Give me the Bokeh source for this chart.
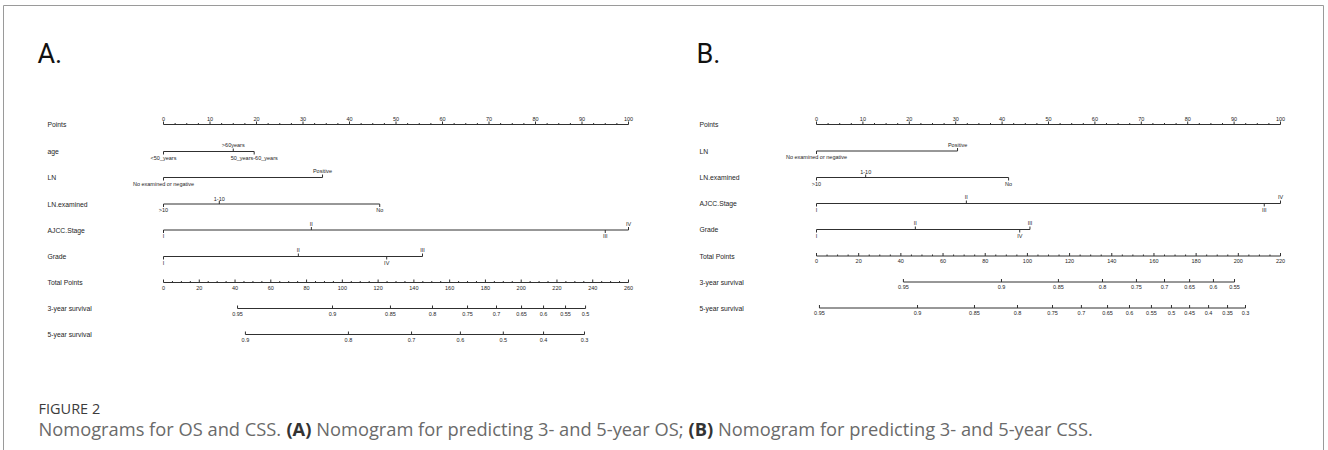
import glob
import os

from bokeh.plotting import figure
from bokeh.models import Range1d
from bokeh.core.properties import value
from bokeh.embed import file_html
from bokeh.resources import INLINE

W, H = 1328, 450

# ---------------- data: panel A (OS) ----------------
A_row_names = ["Points", "age", "LN", "LN.examined", "AJCC.Stage", "Grade",
               "Total Points", "3-year survival", "5-year survival"]
A_age_labels = ["<50_years", ">60years", "50_years-60_years"]
A_age_pts = [0, 15, 19.5]
A_ln_labels = ["No examined or negative", "Positive"]
A_ln_pts = [0, 34.2]
A_lnex_labels = [">10", "1-10", "No"]
A_lnex_pts = [0, 12, 46.5]
A_stage_labels = ["I", "II", "III", "IV"]
A_stage_pts = [0, 31.8, 95, 100]
A_grade_labels = ["I", "II", "IV", "III"]
A_grade_pts = [0, 29, 48, 55.7]
A_total_max = 260
A_surv3_labels = ["0.95", "0.9", "0.85", "0.8", "0.75", "0.7", "0.65", "0.6", "0.55", "0.5"]
A_surv3_total = [41.4, 94.5, 126.9, 150.4, 170, 186.2, 200.2, 212.5, 224.8, 236]
A_surv5_labels = ["0.9", "0.8", "0.7", "0.6", "0.5", "0.4", "0.3"]
A_surv5_total = [45.8, 103.4, 138.7, 166, 190, 212.5, 235.4]

# ---------------- data: panel B (CSS) ----------------
B_row_names = ["Points", "LN", "LN.examined", "AJCC.Stage", "Grade",
               "Total Points", "3-year survival", "5-year survival"]
B_ln_labels = ["No examined or negative", "Positive"]
B_ln_pts = [0, 30.4]
B_lnex_labels = [">10", "1-10", "No"]
B_lnex_pts = [0, 10.6, 41.4]
B_stage_labels = ["I", "II", "III", "IV"]
B_stage_pts = [0, 32.3, 96.5, 100]
B_grade_labels = ["I", "II", "IV", "III"]
B_grade_pts = [0, 21.3, 43.8, 46]
B_total_max = 220
B_surv3_labels = ["0.95", "0.9", "0.85", "0.8", "0.75", "0.7", "0.65", "0.6", "0.55"]
B_surv3_total = [41.2, 87.7, 114.7, 135.6, 151.7, 165, 176.9, 188.2, 198.2]
B_surv5_labels = ["0.95", "0.9", "0.85", "0.8", "0.75", "0.7", "0.65", "0.6", "0.55",
                  "0.5", "0.45", "0.4", "0.35", "0.3"]
B_surv5_total = [1.4, 47.9, 74.9, 95.3, 111.9, 125.6, 138, 148.4, 158.8,
                 168.3, 176.9, 185.9, 194.9, 203.4]

caption_title = "FIGURE 2"
caption_parts = ["Nomograms for OS and CSS.", "(A)", "Nomogram for predicting 3- and 5-year OS;",
                 "(B)", "Nomogram for predicting 3- and 5-year CSS."]

# ---------------- figure ----------------
p = figure(width=W, height=H, x_range=Range1d(0, W), y_range=Range1d(H, 0),
           x_axis_type=None, y_axis_type=None, toolbar_location=None,
           output_backend="svg", min_border=0, outline_line_color=None,
           background_fill_color="white", border_fill_color="white")
p.xgrid.visible = False
p.ygrid.visible = False

INK = "#303030"
TXT = "#1e1e1e"
NF = value("Liberation Sans")


def make_range(v0, v1, x0, x1):
    k = (v1 - v0) / (x1 - x0)
    s = v0 - x0 * k
    return Range1d(s, s + W * k)


def hline(rn, v0, v1, y):
    p.segment(x0=[v0], y0=[y], x1=[v1], y1=[y], x_range_name=rn,
              line_color=INK, line_width=1)


def ticks(rn, xs, y, length):
    p.segment(x0=xs, y0=[y] * len(xs), x1=xs, y1=[y + length] * len(xs),
              x_range_name=rn, line_color=INK, line_width=1)


def labels(rn, xs, y, texts, baseline, size="5.5px"):
    p.text(x=xs, y=[y] * len(xs), text=texts, x_range_name=rn,
           text_font=NF, text_font_size=size, text_color=TXT,
           text_align="center", text_baseline=baseline)


def panel(tag, label_x, x0, x1, rows_y, row_names, variables, total_max, survs):
    rp = tag + "_pts"
    rt = tag + "_tot"
    p.extra_x_ranges[rp] = make_range(0, 100, x0, x1)
    p.extra_x_ranges[rt] = make_range(0, total_max, x0, x1)
    # row names
    p.text(x=[label_x] * len(row_names), y=rows_y, text=row_names,
           text_font=NF, text_font_size="6.8px", text_color=TXT,
           text_align="left", text_baseline="middle")
    # Points axis
    y = rows_y[0]
    hline(rp, 0, 100, y)
    major = list(range(0, 101, 10))
    minor = [m / 2 for m in range(0, 201, 5) if (m / 2) % 10 != 0]
    ticks(rp, major, y, -3)
    ticks(rp, minor, y, -1.5)
    labels(rp, major, y - 3.5, [str(v) for v in major], "bottom")
    # variable rows
    for i, (labs, pts) in enumerate(variables):
        y = rows_y[1 + i]
        hline(rp, min(pts), max(pts), y)
        order = sorted(range(len(pts)), key=lambda j: pts[j])
        up = [order[k] for k in range(len(order)) if k % 2 == 1]
        dn = [order[k] for k in range(len(order)) if k % 2 == 0]
        ticks(rp, [pts[j] for j in up], y, -3)
        ticks(rp, [pts[j] for j in dn], y, 3)
        labels(rp, [pts[j] for j in up], y - 3.2, [labs[j] for j in up], "bottom")
        labels(rp, [pts[j] for j in dn], y + 3.2, [labs[j] for j in dn], "top")
    # Total points axis
    y = rows_y[1 + len(variables)]
    hline(rt, 0, total_max, y)
    major = list(range(0, total_max + 1, 20))
    minor = [v for v in range(0, total_max + 1, 5) if v % 20 != 0]
    ticks(rt, major, y, -3)
    ticks(rt, minor, y, -1.5)
    labels(rt, major, y + 3.2, [str(v) for v in major], "top")
    # survival axes
    for i, (labs, tots) in enumerate(survs):
        y = rows_y[2 + len(variables) + i]
        hline(rt, min(tots), max(tots), y)
        ticks(rt, tots, y, -3)
        labels(rt, tots, y + 3.2, labs, "top")


panel("A", 47, 163, 628,
      [124, 151, 177, 203.5, 229.5, 256, 282, 308, 334],
      A_row_names,
      [(A_age_labels, A_age_pts), (A_ln_labels, A_ln_pts), (A_lnex_labels, A_lnex_pts),
       (A_stage_labels, A_stage_pts), (A_grade_labels, A_grade_pts)],
      A_total_max,
      [(A_surv3_labels, A_surv3_total), (A_surv5_labels, A_surv5_total)])

panel("B", 699, 816, 1280,
      [124, 150.5, 177, 203, 229, 255.5, 281.5, 307.5],
      B_row_names,
      [(B_ln_labels, B_ln_pts), (B_lnex_labels, B_lnex_pts),
       (B_stage_labels, B_stage_pts), (B_grade_labels, B_grade_pts)],
      B_total_max,
      [(B_surv3_labels, B_surv3_total), (B_surv5_labels, B_surv5_total)])

# panel letters
p.text(x=[37, 696], y=[53, 53], text=["A.", "B."], text_font=value("Roboto"),
       text_font_size="27px", text_color="#111111", text_align="left",
       text_baseline="alphabetic")


# ---------------- caption (measured with Pillow when fonts are found) ----------------
def find_font(names):
    for d in ["/usr/share/fonts", "/usr/local/share/fonts",
              os.path.expanduser("~/.fonts"), os.path.expanduser("~/.local/share/fonts")]:
        for n in names:
            hits = glob.glob(os.path.join(d, "**", n), recursive=True)
            if hits:
                return hits[0]
    return None


CAP_SIZE = 18.3


def measure(text, bold):
    try:
        from PIL import ImageFont
        path = None
        if bold:
            path = find_font(["OpenSans-Bold.ttf", "OpenSans*Bold.ttf"])
        if path is None:
            path = find_font(["OpenSans-Regular.ttf", "OpenSans*.ttf", "OpenSans[[]*.ttf"])
        f = ImageFont.truetype(path, 100)
        if bold and "Bold" not in os.path.basename(path):
            try:
                f.set_variation_by_name("Bold")
            except Exception:
                pass
        return f.getlength(text) * CAP_SIZE / 100.0
    except Exception:
        return len(text) * CAP_SIZE * (0.6 if bold else 0.53)


p.text(x=[38], y=[408], text=[caption_title], text_font=value("Open Sans"),
       text_font_size="14.5px", text_color="#3c3c3c", text_align="left",
       text_baseline="alphabetic")
space_w = measure("a a", False) - measure("aa", False)
cx = 38.0
for part in caption_parts:
    bold = part in ("(A)", "(B)")
    p.text(x=[cx], y=[428], text=[part], text_font=value("Open Sans"),
           text_font_size=f"{CAP_SIZE}px", text_color="#333333" if bold else "#6a6a6a",
           text_font_style="bold" if bold else "normal",
           text_align="left", text_baseline="alphabetic")
    cx += measure(part, bold) + space_w

# frame
p.segment(x0=[3, 3, 1323], y0=[5, 5, 5], x1=[1323, 3, 1323],
          y1=[5, H, H], line_color="#9a9a9a", line_width=1)

open("out.html", "w").write(file_html(p, INLINE))
